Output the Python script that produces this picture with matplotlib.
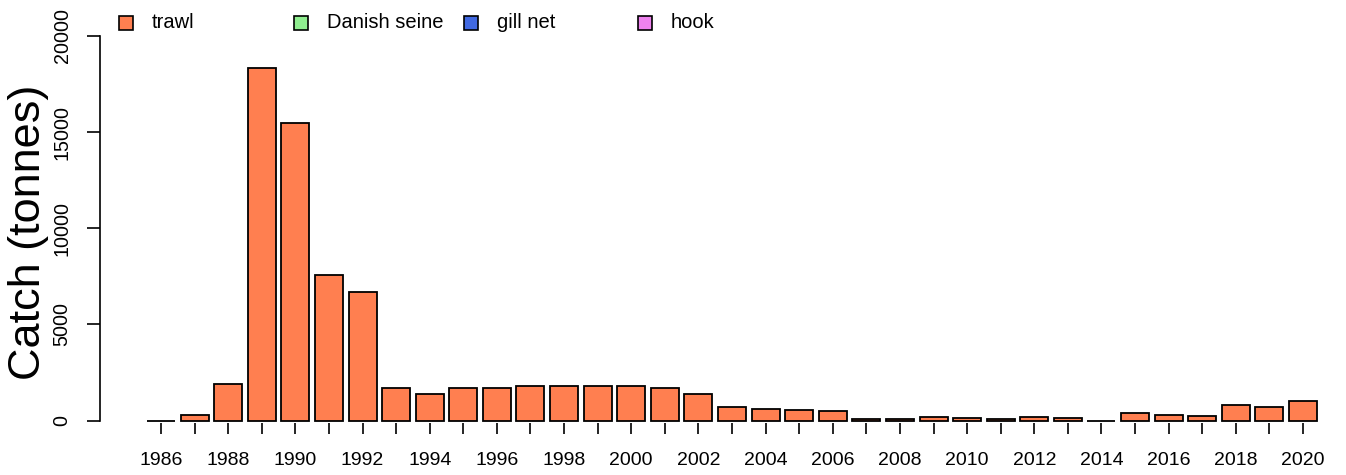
import numpy as np
import matplotlib.pyplot as plt
from matplotlib.patches import Rectangle

plt.rcParams['font.family'] = ['Liberation Sans', 'DejaVu Sans']

# catch by gear (tonnes)
years = np.arange(1986, 2021)
trawl = [0, 300, 1900, 18350, 15450, 7550, 6700, 1700, 1400, 1700,
         1700, 1820, 1770, 1820, 1820, 1700, 1400, 680, 620, 570,
         470, 100, 80, 190, 120, 90, 170, 120, 0, 380,
         310, 260, 800, 690, 1040]
gears = ['trawl', 'Danish seine', 'gill net', 'hook']
gear_cols = ['#FF7F50', '#90EE90', '#4169E1', '#EE82EE']
yticks = [0, 5000, 10000, 15000, 20000]

W, H = 1346, 475
fig = plt.figure(figsize=(W / 100, H / 100), dpi=100)

# axes placement in pixels (R style plot region)
px_per = (420.5 - 36) / 20000
ax_left, ax_right = 100, W
ax_top, ax_bot = 5, 423
ax = fig.add_axes([ax_left / W, 1 - ax_bot / H, (ax_right - ax_left) / W, (ax_bot - ax_top) / H])
ax.set_ylim(-(ax_bot - 420.5) / px_per, 20000 + (36 - ax_top) / px_per)
step = (1303 - 161) / 34
ax.set_xlim(1986 - (161 - ax_left) / step, 1986 + (ax_right - 161) / step)

ax.bar(years, trawl, width=1 / 1.2, color=gear_cols[0], edgecolor='black', linewidth=1.3)

for s in ['top', 'right', 'bottom']:
    ax.spines[s].set_visible(False)
ax.spines['left'].set_bounds(0, 20000)
ax.spines['left'].set_linewidth(1.2)

ax.set_yticks(yticks)
ax.set_yticklabels([str(v) for v in yticks], rotation=90, va='center')
ax.set_xticks(years)
ax.set_xticklabels([str(y) if y % 2 == 0 else '' for y in years])
ax.tick_params(axis='y', length=9.5, width=1.2, pad=11, labelsize=14.2)
ax.tick_params(axis='x', length=8, width=1.2, pad=13, labelsize=14)

fig.text(29 / W, 1 - 232 / H, 'Catch (tonnes)', rotation=90, ha='center', va='center', fontsize=32.5)

# legend along the top
sq_x = [126, 301, 471, 645]
tx_x = [152, 327, 497, 671]
ly = 23
for g, c, sx, tx in zip(gears, gear_cols, sq_x, tx_x):
    fig.patches.append(Rectangle(((sx - 7) / W, 1 - (ly + 6.5) / H), 14 / W, 13 / H,
                                 transform=fig.transFigure, facecolor=c,
                                 edgecolor='black', linewidth=1.2))
    fig.text(tx / W, 1 - ly / H, g, ha='left', va='center', fontsize=14.5)

plt.savefig('out.png', dpi=100)
